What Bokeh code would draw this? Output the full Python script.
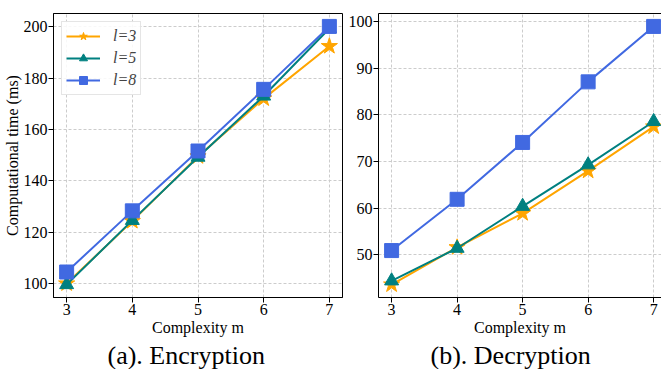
from bokeh.plotting import figure
from bokeh.layouts import row
from bokeh.models import Range1d, SingleIntervalTicker, FixedTicker, Title, Legend, LegendItem, LinearAxis
from bokeh.embed import file_html
from bokeh.resources import INLINE

complexity = [3, 4, 5, 6, 7]
enc_l3 = [100.0, 124.3, 149.5, 172.0, 192.4]
enc_l5 = [99.6, 124.6, 149.2, 173.0, 199.3]
enc_l8 = [104.5, 128.3, 151.6, 175.6, 200.1]
dec_l3 = [43.6, 51.6, 58.9, 68.0, 77.5]
dec_l5 = [44.4, 51.4, 60.4, 69.3, 78.6]
dec_l8 = [50.9, 61.9, 74.1, 87.1, 99.0]
series_labels = ["l=3", "l=5", "l=8"]
captions = ["(a). Encryption", "(b). Decryption"]

COLORS = ["#FFA500", "#008080", "#4169E1"]
MARKERS = ["star", "triangle", "square"]
SIZES = [17, 14, 14]
FONT = "'Liberation Serif', 'Times New Roman', serif"


def pad_range(vals, frac=0.05):
    lo, hi = min(vals), max(vals)
    d = (hi - lo) * frac
    return lo - d, hi + d


def style(p, y_interval):
    p.xaxis.ticker = SingleIntervalTicker(interval=1)
    p.yaxis.ticker = SingleIntervalTicker(interval=y_interval)
    for ax in list(p.xaxis) + list(p.yaxis):
        ax.major_label_text_font = FONT
        ax.major_label_text_font_size = "16px"
        ax.major_label_text_color = "black"
        ax.axis_label_text_font = FONT
        ax.axis_label_text_font_size = "16px"
        ax.axis_label_text_font_style = "normal"
        ax.axis_label_text_color = "black"
        ax.minor_tick_line_color = None
        ax.major_tick_in = 0
        ax.major_tick_out = 5
        ax.major_label_standoff = 1
        ax.axis_label_standoff = 1
        ax.axis_line_color = "black"
        ax.major_tick_line_color = "black"
    p.grid.grid_line_color = "#cccccc"
    p.grid.grid_line_dash = "3 2"
    p.grid.grid_line_width = 1
    p.background_fill_color = "white"
    p.border_fill_color = "white"


def draw(p, ys):
    renderers = []
    for y, c, m, s in zip(ys, COLORS, MARKERS, SIZES):
        r1 = p.line(complexity, y, line_color=c, line_width=2)
        r2 = p.scatter(complexity, y, marker=m, size=s, fill_color=c, line_color=c)
        renderers.append([r1, r2])
    return renderers


def caption(text, offset):
    return Title(text=text, align="left", offset=offset, text_font=FONT, text_font_size="26px",
                 text_font_style="normal", text_color="black", standoff=0, text_line_height=1.0)


# ---- Encryption ----
ylo, yhi = pad_range(enc_l3 + enc_l5 + enc_l8)
p1 = figure(frame_width=289, frame_height=284, output_backend="svg", toolbar_location=None,
            x_range=Range1d(2.8, 7.2), y_range=Range1d(ylo, yhi),
            min_border_top=13, min_border_left=0, min_border_right=3, min_border_bottom=0)
style(p1, 20)
p1.outline_line_color = "black"
p1.outline_line_width = 1
p1.xaxis.axis_label = "Complexity m"
p1.yaxis.axis_label = "Computational time (ms)"
p1.yaxis.axis_label_standoff = 0
rs = draw(p1, [enc_l3, enc_l5, enc_l8])
legend = Legend(items=[LegendItem(label=lab, renderers=r) for lab, r in zip(series_labels, rs)],
                location="top_left", margin=8)
legend.label_text_font = FONT
legend.label_text_font_style = "italic"
legend.label_text_font_size = "16px"
legend.glyph_width = 34
legend.glyph_height = 20
legend.label_height = 20
legend.spacing = 2
legend.padding = 4
legend.label_standoff = 13
legend.border_line_color = "#cccccc"
legend.border_line_width = 1
legend.background_fill_alpha = 0.85
p1.add_layout(legend)
p1.add_layout(caption(captions[0], 54), "below")

# ---- Decryption ----
ylo2, yhi2 = pad_range(dec_l3 + dec_l5 + dec_l8)
p2 = figure(frame_width=283, frame_height=284, output_backend="svg", toolbar_location=None,
            x_range=Range1d(2.8, 7.12), y_range=Range1d(ylo2, yhi2),
            min_border_top=13, min_border_left=0, min_border_right=0, min_border_bottom=0)
style(p2, 10)
p2.outline_line_color = None
p2.xaxis.axis_label = "Complexity m"
top_axis = LinearAxis(ticker=FixedTicker(ticks=[]), axis_line_color="black",
                      major_tick_line_color=None, minor_tick_line_color=None,
                      major_label_standoff=0, major_tick_out=0, major_tick_in=0)
p2.add_layout(top_axis, "above")
draw(p2, [dec_l3, dec_l5, dec_l8])
p2.add_layout(caption(captions[1], 52), "below")

layout = row(p1, p2)
open("out.html", "w").write(file_html(layout, INLINE))
